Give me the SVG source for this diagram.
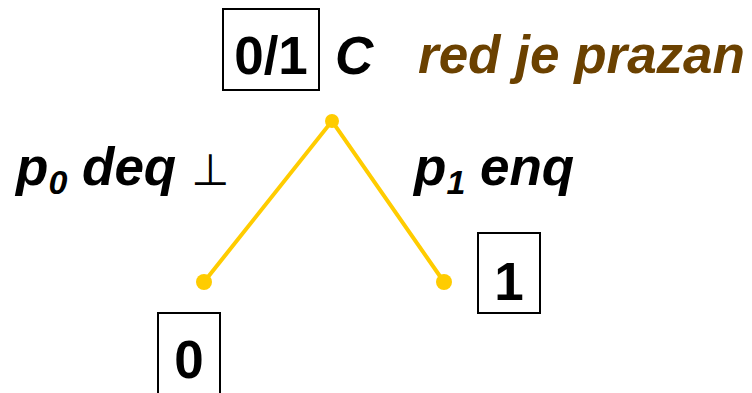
<svg xmlns="http://www.w3.org/2000/svg" width="752" height="393" viewBox="0 0 752 393">
<style>
.box{fill:#fff;stroke:#000;stroke-width:2}
.big{font-family:"Liberation Sans",Arial,sans-serif;font-weight:bold;font-size:53px;fill:#000}
.brown{fill:#6B4100}
.lab{font-family:"Liberation Sans",Arial,sans-serif;font-weight:bold;font-style:italic;font-size:53px;fill:#000}
.sub{font-size:34px}
.sym{font-family:"DejaVu Sans",sans-serif;font-style:normal;font-weight:normal;font-size:44px}
.edge{stroke:#FFCC00;stroke-width:4;fill:none;stroke-linecap:round}
.dot{fill:#FFCC00}
</style>
<rect width="752" height="393" fill="#fff"/>
<g id="connectors">
<polyline class="edge" points="204,282 332,121 444,282"/>
<circle class="dot" cx="332" cy="121" r="7"/>
<circle class="dot" cx="204" cy="282" r="8"/>
<circle class="dot" cx="444" cy="282" r="8"/>
</g>
<g id="root">
<rect class="box" x="223" y="9" width="96" height="81"/>
<text class="big" x="271" y="74" text-anchor="middle">0/1</text>
<text class="big" x="335" y="74" font-style="italic">C</text>
<text class="big brown" x="418" y="73" font-style="italic">red je prazan</text>
</g>
<g id="left-label">
<text class="lab" x="16" y="185">p<tspan class="sub" dy="9">0</tspan><tspan dy="-9"> deq </tspan><tspan class="sym">⊥</tspan></text>
</g>
<g id="right-label">
<text class="lab" x="414" y="185">p<tspan class="sub" dy="9">1</tspan><tspan dy="-9"> enq</tspan></text>
</g>
<g id="node0">
<rect class="box" x="158" y="313" width="62" height="90"/>
<text class="big" x="189" y="378" text-anchor="middle">0</text>
</g>
<g id="node1">
<rect class="box" x="478" y="233" width="62" height="80"/>
<text class="big" x="509" y="300" text-anchor="middle">1</text>
</g>
</svg>
